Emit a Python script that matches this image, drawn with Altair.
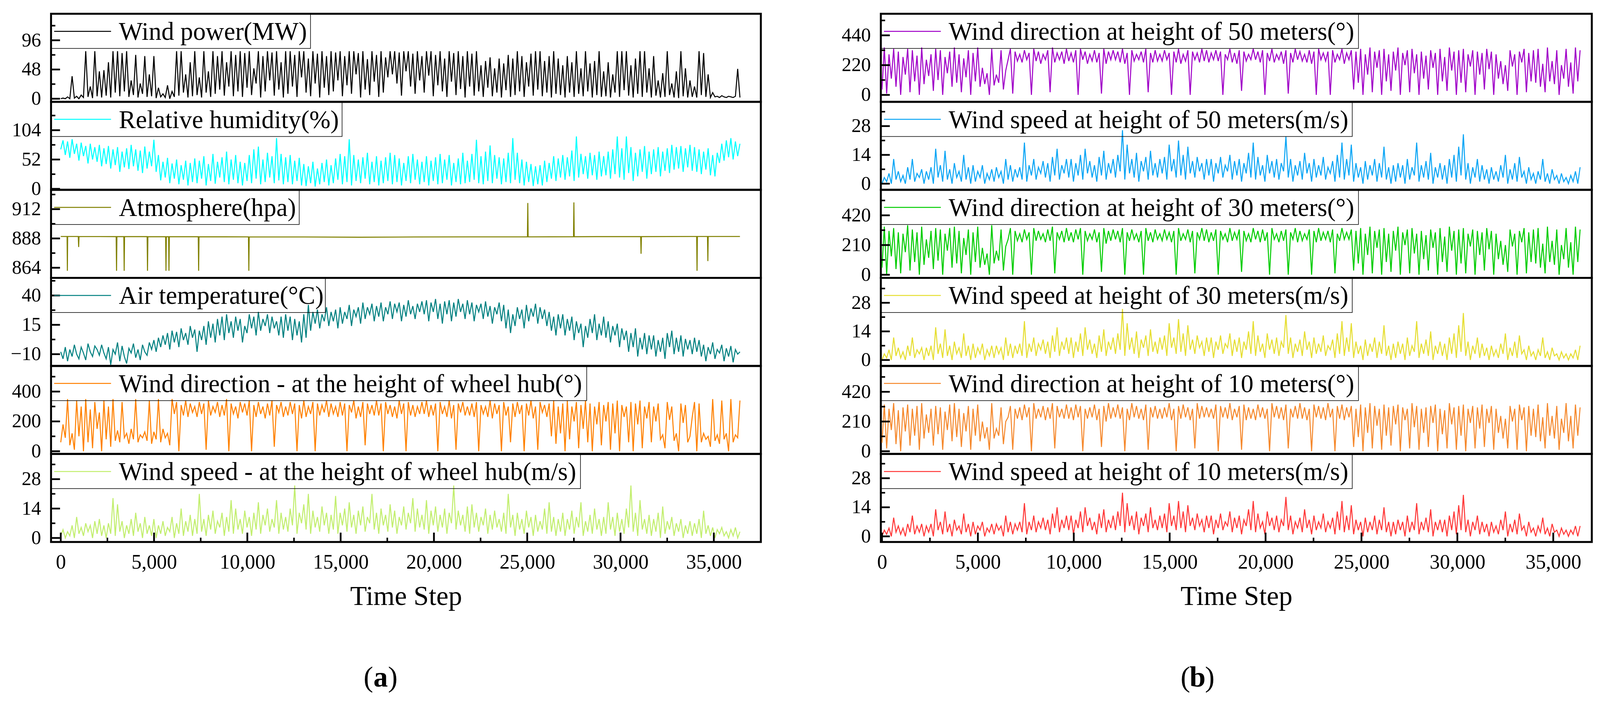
import altair as alt
import pandas as pd

FONT = "Liberation Serif"
X_LAST = 36400  # last time step of the record

# ---------------- values (alternating troughs / peaks) ----------------
wind_power = [
    0, 1, 0, 3, 0, 37, 1, 4, 0, 6, 2, 78, 3, 20, 1, 78, 4, 45, 2, 47,
    5, 60, 2, 78, 10, 78, 4, 75, 12, 78, 3, 30, 6, 72, 2, 25, 8, 70, 3, 40,
    4, 70, 1, 18, 3, 8, 2, 22, 0, 12, 3, 78, 5, 78, 10, 40, 2, 60, 4, 78,
    6, 35, 2, 78, 10, 45, 3, 78, 8, 70, 15, 78, 5, 60, 20, 78, 4, 72, 12, 78,
    3, 75, 18, 78, 6, 50, 25, 78, 2, 70, 12, 78, 30, 76, 5, 78, 15, 60, 2, 78,
    8, 78, 20, 72, 3, 78, 35, 78, 10, 66, 4, 78, 25, 74, 2, 78, 18, 70, 6, 78,
    12, 76, 30, 78, 4, 70, 22, 78, 8, 78, 40, 75, 2, 78, 15, 65, 6, 78, 28, 72,
    3, 78, 10, 68, 35, 78, 40, 78, 25, 76, 5, 78, 45, 78, 20, 74, 8, 78, 30, 70,
    10, 78, 38, 78, 4, 72, 22, 78, 12, 66, 3, 78, 28, 75, 6, 78, 16, 70, 2, 78,
    20, 74, 5, 78, 12, 55, 3, 62, 18, 68, 4, 50, 10, 66, 2, 58, 14, 72, 3, 66,
    6, 78, 12, 70, 3, 60, 20, 74, 5, 78, 15, 78, 4, 62, 10, 70, 2, 78, 8, 66,
    6, 55, 2, 70, 10, 60, 3, 78, 8, 50, 4, 78, 12, 58, 2, 62, 6, 78, 3, 45,
    4, 60, 2, 40, 10, 78, 3, 78, 14, 78, 5, 55, 2, 66, 8, 78, 3, 78, 10, 50,
    2, 70, 5, 30, 2, 42, 3, 78, 6, 25, 2, 45, 1, 78, 4, 50, 2, 30, 3, 20,
    2, 78, 6, 75, 3, 40, 2, 10, 3, 4, 2, 5, 3, 2, 4, 3, 2, 4, 49, 2,
]
humidity = [
    70, 86, 60, 84, 55, 88, 62, 80, 50, 82, 58, 76, 45, 80, 52, 74, 48, 78, 40, 72,
    44, 76, 36, 70, 42, 74, 30, 66, 38, 72, 35, 78, 40, 70, 32, 68, 28, 75, 36, 66,
    40, 87, 30, 60, 15, 48, 20, 55, 10, 45, 18, 52, 8, 42, 16, 50, 6, 46, 12, 54,
    10, 50, 18, 58, 6, 44, 14, 62, 9, 48, 20, 56, 12, 66, 8, 52, 16, 60, 10, 48,
    6, 46, 14, 60, 10, 70, 18, 75, 8, 52, 12, 64, 20, 58, 10, 90, 15, 62, 8, 56,
    12, 60, 8, 50, 14, 55, 6, 44, 5, 40, 10, 48, 4, 36, 8, 46, 12, 52, 6, 42,
    10, 54, 16, 62, 8, 58, 12, 88, 6, 60, 14, 52, 10, 56, 18, 64, 8, 48, 12, 58,
    6, 50, 10, 56, 14, 64, 8, 60, 12, 54, 6, 46, 14, 58, 10, 62, 16, 52, 8, 48,
    12, 58, 6, 50, 14, 56, 8, 62, 10, 52, 16, 60, 6, 46, 12, 54, 8, 64, 10, 50,
    12, 62, 16, 87, 10, 58, 8, 66, 14, 77, 10, 60, 18, 56, 8, 54, 12, 64, 10, 90,
    16, 64, 10, 52, 6, 48, 12, 44, 5, 40, 8, 42, 6, 50, 12, 46, 18, 58, 14, 54,
    20, 60, 16, 56, 22, 68, 14, 93, 20, 62, 26, 58, 18, 64, 24, 60, 16, 66, 22, 58,
    24, 66, 18, 70, 26, 93, 20, 72, 16, 93, 28, 74, 14, 64, 22, 70, 30, 76, 18, 66,
    26, 70, 30, 74, 22, 66, 32, 72, 28, 78, 34, 74, 36, 76, 30, 72, 38, 78, 32, 74,
    30, 70, 26, 66, 34, 72, 24, 60, 22, 64, 46, 80, 50, 86, 56, 90, 52, 84, 58, 80,
]
atm_steps = [
    0, 340, 355, 370, 940, 960, 980, 2970, 2990, 3010, 3380, 3400, 3420,
    4630, 4650, 4670, 5620, 5640, 5660, 5780, 5800, 5820, 7370, 7390, 7410,
    10060, 10080, 10100, 13000, 16000, 19000, 22000, 25010, 25030, 25050,
    27480, 27500, 27520, 29000, 31080, 31100, 31120, 34080, 34100, 34120,
    34660, 34680, 34700, 36400,
]
atm_values = [
    889.6, 889.6, 861.5, 889.6, 889.6, 881.0, 889.6, 889.5, 861.5, 889.5, 889.5, 861.5, 889.5,
    889.5, 861.5, 889.5, 889.4, 861.5, 889.4, 889.4, 861.5, 889.4, 889.4, 861.5, 889.4,
    889.3, 861.5, 889.3, 889.2, 889.0, 889.2, 889.3, 889.3, 917.0, 889.3,
    889.4, 917.5, 889.4, 889.5, 889.5, 875.5, 889.5, 889.6, 861.5, 889.6,
    889.6, 869.5, 889.6, 889.6,
]
air_temp = [
    -8, -14, -4, -16, -6, -12, -2, -10, -14, -4, -9, -15, -1, -8, -12, -3, -6, -11, -2, -9,
    -14, -4, -19, -6, -10, 0, -16, -3, -12, -18, -5, -9, -1, -13, -6, -15, -2, -8, -11, 0,
    -6, 2, -8, 4, -4, 6, -2, 8, -6, 10, 0, 9, -4, 12, 2, 8, -2, 14, 4, 11,
    -8, 10, 2, 14, -2, 18, 4, 16, 0, 20, 6, 22, 2, 24, 8, 18, 4, 22, 10, 20,
    0, 14, 8, 24, 12, 22, 6, 26, 10, 20, 14, 24, 8, 22, 12, 18, 6, 22, 4, 24,
    10, 22, 2, 20, 6, 18, 0, 24, 4, 32, 10, 26, 16, 28, 12, 24, 18, 30, 14, 26,
    18, 28, 12, 30, 16, 26, 20, 32, 14, 28, 22, 30, 16, 34, 20, 30, 24, 33, 18, 31,
    22, 34, 18, 30, 24, 35, 20, 33, 26, 34, 18, 32, 22, 36, 24, 31, 20, 33, 26, 35,
    24, 36, 18, 34, 26, 37, 20, 33, 16, 35, 24, 36, 18, 34, 22, 37, 26, 33, 20, 36,
    24, 34, 18, 32, 26, 33, 20, 35, 22, 31, 16, 30, 24, 34, 18, 32, 12, 28, 8, 24,
    14, 30, 20, 28, 12, 32, 18, 29, 22, 33, 16, 30, 20, 28, 14, 26, 10, 22, 6, 24,
    12, 24, 6, 20, 10, 22, 2, 18, 8, 16, -4, 14, 4, 20, 8, 24, 2, 16, 6, 22,
    4, 18, 0, 14, 6, 16, -4, 12, 2, 10, -8, 8, -4, 12, -12, 4, -6, 8, -10, 6,
    -6, 6, -12, 2, -8, 4, -14, 8, -4, 10, -10, 4, -8, 6, -12, 3, -6, 2, -10, 4,
    -8, 2, -12, -2, -16, -4, -10, 0, -14, -6, -9, -2, -16, -5, -12, -3, -17, -6, -10, -8,
]
wind_dir_hub = [
    60, 180, 90, 350, 40, 120, 10, 340, 100, 300, 0, 350, 60, 280, 20, 330, 150, 260, 0, 340,
    80, 300, 30, 350, 70, 140, 60, 330, 90, 120, 50, 150, 80, 350, 60, 110, 90, 130, 70, 340,
    50, 130, 80, 350, 60, 150, 90, 120, 40, 350, 250, 330, 0, 310, 240, 340, 230, 320, 260, 300,
    230, 330, 250, 320, 10, 340, 240, 300, 260, 330, 230, 310, 240, 350, 0, 320, 250, 300, 220, 330,
    260, 320, 240, 340, 0, 310, 230, 330, 250, 300, 220, 320, 240, 340, 30, 310, 260, 330, 230, 300,
    240, 330, 250, 320, 0, 310, 220, 340, 230, 300, 250, 330, 0, 320, 240, 310, 260, 340, 230, 320,
    250, 300, 230, 330, 240, 320, 0, 310, 260, 340, 220, 300, 230, 330, 40, 320, 250, 310, 240, 340,
    240, 320, 0, 330, 250, 310, 230, 300, 220, 340, 250, 320, 0, 330, 240, 310, 230, 300, 250, 330,
    250, 340, 230, 310, 240, 320, 0, 330, 250, 300, 230, 340, 220, 310, 10, 320, 260, 330, 240, 300,
    240, 320, 230, 330, 0, 310, 250, 300, 230, 340, 220, 320, 250, 310, 0, 330, 240, 300, 60, 320,
    230, 330, 250, 310, 0, 320, 240, 340, 220, 300, 10, 330, 260, 310, 230, 320, 100, 340, 50, 300,
    120, 320, 0, 340, 80, 300, 200, 330, 20, 310, 150, 340, 60, 320, 0, 300, 180, 330, 40, 310,
    200, 330, 10, 320, 120, 340, 0, 310, 230, 300, 60, 330, 0, 320, 180, 340, 20, 300, 220, 330,
    60, 300, 200, 320, 80, 110, 20, 330, 210, 300, 70, 120, 0, 320, 190, 310, 60, 100, 230, 330,
    0, 320, 60, 120, 80, 100, 30, 350, 70, 110, 50, 340, 80, 120, 0, 350, 60, 110, 90, 340,
]
wind_speed_hub = [
    1, 4, 0, 3, 1, 6, 0, 10, 2, 5, 1, 7, 3, 6, 0, 8, 2, 9, 1, 6,
    0, 7, 2, 19, 1, 16, 3, 8, 0, 6, 2, 9, 1, 12, 3, 7, 0, 10, 2, 6,
    1, 9, 0, 6, 2, 8, 1, 5, 3, 10, 0, 7, 2, 14, 1, 8, 3, 11, 1, 9,
    2, 21, 3, 9, 1, 11, 4, 13, 2, 8, 5, 12, 1, 10, 3, 18, 2, 14, 4, 9,
    2, 13, 5, 10, 1, 12, 4, 17, 2, 11, 6, 14, 3, 9, 5, 18, 2, 12, 4, 10,
    3, 14, 6, 25, 2, 12, 7, 16, 4, 21, 2, 13, 5, 10, 3, 15, 6, 12, 2, 11,
    4, 20, 2, 12, 6, 14, 3, 17, 5, 11, 2, 13, 6, 15, 3, 10, 7, 21, 4, 12,
    2, 14, 6, 11, 3, 16, 5, 13, 2, 10, 6, 15, 4, 12, 7, 19, 3, 14, 5, 11,
    4, 18, 2, 13, 6, 15, 3, 11, 5, 14, 2, 12, 7, 25, 4, 13, 6, 11, 3, 15,
    2, 16, 5, 12, 3, 10, 6, 14, 2, 11, 4, 13, 5, 9, 3, 12, 2, 21, 5, 11,
    1, 12, 4, 9, 2, 13, 5, 10, 1, 11, 3, 8, 4, 14, 2, 17, 3, 10, 1, 9,
    3, 12, 1, 9, 4, 13, 2, 10, 5, 17, 1, 8, 3, 11, 2, 14, 4, 9, 1, 10,
    2, 17, 4, 10, 1, 12, 3, 9, 2, 14, 5, 25, 3, 12, 1, 18, 4, 9, 2, 11,
    1, 9, 3, 12, 0, 15, 2, 8, 4, 10, 1, 7, 3, 9, 0, 6, 2, 8, 1, 7,
    2, 9, 0, 13, 2, 6, 1, 5, 0, 4, 2, 5, 1, 3, 0, 4, 1, 5, 0, 3,
]
wind_dir_50 = [
    40, 350, 10, 300, 120, 340, 60, 320, 0, 280, 150, 340, 20, 330, 100, 290, 0, 350, 80, 260,
    140, 300, 30, 340, 110, 330, 0, 280, 160, 320, 60, 350, 90, 300, 20, 270, 130, 330, 0, 310,
    100, 350, 60, 200, 80, 160, 0, 340, 70, 150, 90, 330, 40, 180, 260, 340, 10, 320, 250, 300,
    240, 330, 260, 310, 0, 340, 250, 320, 230, 300, 260, 330, 20, 350, 240, 310, 260, 320, 230, 340,
    250, 310, 240, 330, 0, 340, 260, 320, 230, 300, 250, 330, 240, 310, 10, 340, 230, 320, 260, 330,
    260, 320, 240, 340, 230, 310, 0, 330, 250, 300, 260, 320, 240, 340, 20, 310, 240, 330, 250, 300,
    250, 330, 260, 310, 0, 320, 240, 340, 230, 300, 250, 330, 0, 320, 260, 310, 240, 340, 250, 330,
    240, 310, 260, 330, 250, 320, 0, 300, 260, 340, 240, 310, 230, 330, 30, 320, 250, 300, 260, 340,
    260, 320, 240, 330, 0, 310, 250, 340, 240, 300, 260, 320, 230, 330, 10, 310, 240, 340, 260, 320,
    250, 300, 240, 330, 230, 320, 0, 340, 260, 310, 250, 320, 0, 330, 240, 300, 260, 340, 230, 310,
    260, 330, 40, 320, 90, 340, 0, 300, 150, 350, 20, 320, 200, 330, 0, 340, 100, 300, 30, 320,
    180, 350, 0, 310, 220, 330, 20, 340, 160, 300, 0, 320, 120, 290, 40, 330, 200, 310, 0, 340,
    100, 280, 30, 350, 180, 320, 0, 330, 90, 340, 20, 300, 210, 330, 0, 320, 150, 310, 40, 340,
    190, 320, 0, 300, 120, 250, 80, 220, 30, 330, 210, 300, 0, 320, 240, 340, 20, 310, 100, 330,
    90, 340, 60, 230, 20, 350, 100, 250, 80, 330, 0, 220, 120, 340, 60, 240, 10, 350, 100, 330,
]
wind_speed_50 = [
    0, 3, 1, 5, 0, 12, 2, 6, 1, 4, 0, 8, 2, 12, 1, 5, 3, 7, 0, 6,
    2, 8, 0, 17, 3, 9, 1, 16, 2, 7, 0, 10, 3, 6, 1, 14, 2, 8, 0, 9,
    1, 6, 3, 9, 0, 5, 2, 7, 1, 8, 3, 6, 0, 12, 2, 9, 1, 7, 3, 8,
    2, 20, 1, 9, 4, 12, 2, 8, 5, 11, 3, 10, 1, 13, 4, 17, 2, 9, 5, 12,
    3, 12, 1, 10, 4, 14, 2, 17, 5, 11, 3, 9, 1, 13, 4, 16, 2, 10, 5, 12,
    3, 14, 6, 26, 2, 19, 5, 12, 3, 15, 1, 11, 6, 13, 2, 16, 4, 10, 3, 12,
    5, 13, 2, 19, 6, 12, 3, 21, 4, 14, 2, 18, 5, 11, 3, 13, 6, 10, 2, 12,
    4, 12, 1, 10, 5, 13, 3, 9, 6, 14, 2, 11, 4, 12, 1, 10, 5, 15, 3, 20,
    2, 13, 4, 9, 1, 14, 5, 11, 3, 12, 2, 10, 6, 23, 3, 12, 1, 9, 4, 11,
    2, 15, 5, 10, 1, 12, 3, 9, 4, 13, 2, 8, 5, 11, 1, 14, 3, 20, 2, 12,
    4, 19, 1, 10, 3, 8, 0, 11, 2, 9, 4, 12, 1, 10, 3, 18, 2, 8, 0, 9,
    1, 10, 3, 9, 0, 12, 2, 8, 4, 20, 1, 9, 3, 11, 2, 15, 0, 8, 3, 10,
    2, 9, 0, 12, 3, 14, 1, 18, 4, 24, 2, 10, 0, 8, 3, 12, 1, 9, 2, 7,
    0, 8, 2, 6, 1, 9, 3, 14, 0, 7, 2, 10, 1, 13, 3, 6, 0, 8, 2, 5,
    0, 6, 2, 12, 1, 5, 0, 7, 2, 4, 0, 5, 1, 3, 0, 4, 1, 6, 0, 8,
]
wind_dir_30 = [
    50, 340, 0, 310, 130, 330, 40, 300, 10, 290, 160, 350, 30, 320, 90, 300, 0, 340, 70, 250,
    120, 310, 40, 330, 100, 320, 0, 290, 170, 330, 50, 340, 80, 310, 10, 260, 140, 320, 0, 300,
    90, 340, 50, 190, 70, 150, 0, 350, 80, 170, 100, 320, 30, 200, 250, 330, 0, 310, 240, 290,
    230, 320, 250, 300, 0, 330, 240, 310, 250, 290, 230, 320, 240, 340, 10, 300, 250, 310, 230, 330,
    240, 300, 230, 320, 250, 330, 0, 310, 240, 290, 250, 320, 230, 300, 20, 330, 220, 310, 240, 320,
    250, 310, 230, 330, 0, 300, 240, 320, 250, 290, 230, 310, 0, 330, 240, 300, 230, 320, 250, 290,
    240, 320, 250, 300, 230, 310, 0, 330, 240, 290, 250, 320, 230, 310, 10, 300, 250, 330, 240, 320,
    230, 300, 240, 320, 0, 310, 250, 290, 230, 330, 240, 300, 250, 320, 20, 310, 240, 290, 230, 330,
    250, 310, 230, 320, 240, 300, 0, 330, 250, 290, 230, 310, 240, 320, 0, 300, 250, 330, 230, 310,
    240, 290, 250, 320, 0, 310, 230, 330, 240, 300, 250, 310, 230, 320, 10, 290, 240, 330, 250, 300,
    250, 320, 30, 310, 80, 330, 0, 290, 140, 340, 10, 310, 190, 320, 0, 330, 90, 290, 20, 310,
    170, 340, 0, 300, 210, 320, 10, 330, 150, 290, 0, 310, 110, 280, 30, 320, 190, 300, 0, 330,
    90, 270, 20, 340, 170, 310, 0, 320, 80, 330, 10, 290, 200, 320, 0, 310, 140, 300, 30, 330,
    180, 310, 0, 290, 110, 240, 70, 210, 20, 320, 200, 290, 0, 310, 230, 330, 10, 300, 90, 320,
    80, 330, 50, 220, 10, 340, 90, 240, 70, 320, 0, 210, 110, 330, 50, 230, 0, 340, 90, 320,
]
wind_speed_30 = [
    0, 3, 1, 5, 0, 11, 2, 6, 1, 4, 0, 7, 2, 11, 1, 5, 3, 6, 0, 6,
    2, 7, 0, 16, 3, 8, 1, 15, 2, 7, 0, 9, 3, 6, 1, 13, 2, 7, 0, 8,
    1, 6, 3, 8, 0, 5, 2, 7, 1, 7, 3, 6, 0, 11, 2, 8, 1, 7, 3, 8,
    2, 19, 1, 8, 4, 11, 2, 8, 5, 10, 3, 9, 1, 12, 4, 16, 2, 9, 5, 11,
    3, 11, 1, 9, 4, 13, 2, 16, 5, 10, 3, 8, 1, 12, 4, 15, 2, 9, 5, 11,
    3, 13, 5, 25, 2, 18, 5, 11, 3, 14, 1, 10, 6, 12, 2, 15, 4, 9, 3, 11,
    5, 12, 2, 18, 6, 11, 3, 20, 4, 13, 2, 17, 5, 10, 3, 12, 6, 9, 2, 11,
    4, 11, 1, 9, 5, 12, 3, 8, 6, 13, 2, 10, 4, 11, 1, 9, 5, 14, 3, 19,
    2, 12, 4, 8, 1, 13, 5, 10, 3, 11, 2, 9, 6, 22, 3, 11, 1, 8, 4, 10,
    2, 14, 5, 9, 1, 11, 3, 8, 4, 12, 2, 7, 5, 10, 1, 13, 3, 19, 2, 11,
    4, 18, 1, 9, 3, 7, 0, 10, 2, 8, 4, 11, 1, 9, 3, 17, 2, 7, 0, 8,
    1, 9, 3, 8, 0, 11, 2, 7, 4, 19, 1, 8, 3, 10, 2, 14, 0, 7, 3, 9,
    2, 8, 0, 11, 3, 13, 1, 17, 4, 23, 2, 9, 0, 7, 3, 11, 1, 8, 2, 6,
    0, 7, 2, 5, 1, 8, 3, 13, 0, 6, 2, 9, 1, 12, 3, 5, 0, 7, 2, 4,
    0, 5, 2, 11, 1, 4, 0, 6, 2, 3, 0, 4, 1, 3, 0, 3, 1, 5, 0, 7,
]
wind_dir_10 = [
    60, 330, 20, 300, 150, 340, 50, 290, 0, 310, 140, 330, 40, 300, 110, 320, 10, 340, 90, 260,
    130, 300, 40, 320, 120, 310, 10, 280, 150, 330, 70, 340, 100, 300, 30, 270, 140, 320, 10, 300,
    110, 330, 70, 210, 90, 170, 10, 340, 90, 160, 110, 310, 50, 210, 240, 320, 10, 300, 230, 310,
    220, 330, 240, 310, 0, 340, 230, 300, 240, 320, 220, 310, 230, 340, 20, 320, 240, 300, 230, 330,
    230, 310, 220, 330, 240, 320, 0, 300, 230, 310, 240, 330, 220, 300, 30, 320, 210, 340, 230, 310,
    240, 330, 230, 310, 0, 300, 220, 340, 240, 320, 230, 300, 220, 330, 10, 310, 240, 320, 230, 300,
    230, 310, 240, 340, 220, 300, 0, 320, 230, 330, 240, 310, 220, 300, 20, 340, 230, 320, 240, 310,
    240, 300, 230, 330, 0, 320, 240, 310, 230, 340, 220, 300, 240, 320, 10, 330, 220, 310, 230, 300,
    220, 330, 240, 310, 230, 300, 0, 340, 240, 320, 230, 310, 220, 330, 20, 300, 240, 320, 230, 340,
    230, 310, 220, 300, 0, 330, 240, 320, 230, 310, 220, 340, 240, 300, 0, 320, 230, 330, 220, 310,
    240, 320, 30, 300, 100, 330, 0, 310, 130, 340, 20, 320, 180, 300, 10, 330, 110, 310, 40, 320,
    190, 330, 0, 310, 220, 300, 20, 340, 170, 320, 10, 300, 130, 310, 30, 320, 200, 330, 0, 300,
    120, 290, 20, 340, 190, 310, 10, 320, 110, 330, 0, 300, 200, 320, 20, 310, 160, 330, 30, 300,
    200, 320, 10, 300, 130, 250, 90, 230, 20, 320, 210, 300, 10, 330, 220, 310, 0, 320, 110, 300,
    100, 330, 70, 240, 20, 340, 110, 250, 90, 320, 10, 230, 130, 340, 70, 250, 20, 330, 110, 310,
]
wind_speed_10 = [
    0, 3, 1, 4, 0, 9, 2, 5, 1, 4, 0, 6, 2, 10, 1, 5, 2, 6, 0, 5,
    2, 6, 0, 13, 3, 7, 1, 12, 2, 6, 0, 8, 3, 5, 1, 11, 2, 6, 0, 7,
    1, 5, 3, 7, 0, 4, 2, 6, 1, 6, 3, 5, 0, 10, 2, 7, 1, 6, 3, 7,
    2, 16, 1, 7, 3, 10, 2, 7, 4, 9, 3, 8, 1, 11, 4, 14, 2, 8, 4, 10,
    3, 10, 1, 8, 4, 12, 2, 14, 5, 9, 3, 7, 1, 11, 4, 13, 2, 8, 4, 10,
    3, 12, 5, 21, 2, 16, 5, 10, 3, 12, 1, 9, 5, 11, 2, 14, 4, 8, 3, 10,
    4, 11, 2, 16, 5, 10, 3, 17, 4, 12, 2, 15, 5, 9, 3, 11, 5, 8, 2, 10,
    4, 10, 1, 8, 4, 11, 3, 7, 5, 12, 2, 9, 4, 10, 1, 8, 5, 13, 3, 17,
    2, 11, 4, 7, 1, 12, 5, 9, 3, 10, 2, 8, 5, 19, 3, 10, 1, 7, 4, 9,
    2, 13, 4, 8, 1, 10, 3, 7, 4, 11, 2, 7, 4, 9, 1, 12, 3, 17, 2, 10,
    3, 15, 1, 8, 3, 7, 0, 9, 2, 7, 3, 10, 1, 8, 3, 14, 2, 7, 0, 7,
    1, 8, 3, 7, 0, 10, 2, 7, 3, 16, 1, 7, 3, 9, 2, 13, 0, 7, 3, 8,
    2, 8, 0, 10, 3, 12, 1, 15, 3, 20, 2, 8, 0, 7, 3, 10, 1, 7, 2, 6,
    0, 7, 2, 5, 1, 8, 3, 12, 0, 6, 2, 8, 1, 11, 3, 5, 0, 7, 2, 4,
    0, 5, 2, 9, 1, 4, 0, 6, 2, 3, 0, 4, 1, 3, 0, 3, 1, 5, 0, 5,
]

left_labels = [
    "Wind power(MW)",
    "Relative humidity(%)",
    "Atmosphere(hpa)",
    "Air temperature(°C)",
    "Wind direction - at the height of wheel hub(°)",
    "Wind speed - at the height of wheel hub(m/s)",
]
right_labels = [
    "Wind direction at height of 50 meters(°)",
    "Wind speed at height of 50 meters(m/s)",
    "Wind direction at height of 30 meters(°)",
    "Wind speed at height of 30 meters(m/s)",
    "Wind direction at height of 10 meters(°)",
    "Wind speed at height of 10 meters(m/s)",
]
x_major = [0, 5000, 10000, 15000, 20000, 25000, 30000, 35000]
x_minor = [2500, 7500, 12500, 17500, 22500, 27500, 32500]

# ---------------- styles / layout ----------------
H = 226
LEFT_W, RIGHT_W = 1822, 1825
LEFT_XDOM, RIGHT_XDOM = [-520, 37520], [-60, 37010]

left_specs = [
    dict(values=wind_power, color="#000000", ydom=[-5.1, 139.5], major=[0, 48, 96], minor=[24, 72, 120], box=666),
    dict(values=humidity, color="#00FFFF", ydom=[-1.8, 154.3], major=[0, 52, 104], minor=[26, 78, 130], box=747),
    dict(values=atm_values, xs=atm_steps, color="#808000", ydom=[855.7, 927.8], major=[864, 888, 912], minor=[876, 900, 924], box=637),
    dict(values=air_temp, color="#008080", ydom=[-20, 55], major=[-10, 15, 40], minor=[2.5, 27.5, 52.5], box=704),
    dict(values=wind_dir_hub, color="#FF8000", ydom=[-18, 572], major=[0, 200, 400], minor=[100, 300, 500], box=1375),
    dict(values=wind_speed_hub, color="#C2EE6E", ydom=[-1.9, 40], major=[0, 14, 28], minor=[7, 21, 35], box=1359),
]
right_specs = [
    dict(values=wind_dir_50, color="#A000C8", ydom=[-51, 599], major=[0, 220, 440], minor=[110, 330, 550], box=1226),
    dict(values=wind_speed_50, color="#0AA5F5", ydom=[-3, 39.8], major=[0, 14, 28], minor=[7, 21, 35], box=1210),
    dict(values=wind_dir_30, color="#00CC00", ydom=[-22, 600], major=[0, 210, 420], minor=[105, 315, 525], box=1226),
    dict(values=wind_speed_30, color="#E6DE32", ydom=[-2.9, 40.2], major=[0, 14, 28], minor=[7, 21, 35], box=1210),
    dict(values=wind_dir_10, color="#F5882C", ydom=[-19, 603], major=[0, 210, 420], minor=[105, 315, 525], box=1226),
    dict(values=wind_speed_10, color="#FF3838", ydom=[-2.7, 39.7], major=[0, 14, 28], minor=[7, 21, 35], box=1210),
]


def series_df(values, xs=None):
    n = len(values)
    if xs is None:
        xs = [X_LAST * i / (n - 1) for i in range(n)]
    return pd.DataFrame({"x": xs, "y": values})


def panel(spec, label, width, xdom, bottom, tag, tag_x):
    xscale = alt.Scale(domain=xdom, nice=False, zero=False)
    yscale = alt.Scale(domain=spec["ydom"], nice=False, zero=False)
    if bottom:
        xaxis = alt.Axis(values=x_major, format=",d", ticks=False, domain=False, grid=False,
                         labelFont=FONT, labelFontSize=52, labelColor="black", labelPadding=27,
                         labelFlush=False, labelOverlap=False,
                         title="Time Step", titleFont=FONT, titleFontSize=70,
                         titleFontWeight="normal", titleColor="black", titlePadding=28)
    else:
        xaxis = None
    yaxis = alt.Axis(values=spec["major"], ticks=False, domain=False, grid=False,
                     labelFont=FONT, labelFontSize=50, labelColor="black", labelPadding=26,
                     labelFlush=False, labelOverlap=False, title=None,
                     minExtent=120, maxExtent=120)
    df = series_df(spec["values"], spec.get("xs"))
    line = alt.Chart(df).mark_line(color=spec["color"], strokeWidth=2.6, clip=True).encode(
        x=alt.X("x:Q", scale=xscale, axis=xaxis),
        y=alt.Y("y:Q", scale=yscale, axis=yaxis),
    )
    # inward ticks (same scale and same axis definition so the axes merge)
    ymaj = alt.Chart(pd.DataFrame({"y": spec["major"]})).mark_rule(color="black", strokeWidth=4.5).encode(
        y=alt.Y("y:Q", scale=yscale, axis=yaxis), x=alt.value(0), x2=alt.value(23))
    ymin = alt.Chart(pd.DataFrame({"y": spec["minor"]})).mark_rule(color="black", strokeWidth=4).encode(
        y=alt.Y("y:Q", scale=yscale, axis=yaxis), x=alt.value(0), x2=alt.value(11))
    one = pd.DataFrame({"label": [label]})
    box = alt.Chart(one).mark_rect(fillOpacity=0, stroke="black", strokeWidth=1.5).encode(
        x=alt.value(0), x2=alt.value(spec["box"]), y=alt.value(0), y2=alt.value(89))
    sample = alt.Chart(one).mark_rule(color=spec["color"], strokeWidth=2.5).encode(
        x=alt.value(8), x2=alt.value(154), y=alt.value(45))
    text = alt.Chart(one).mark_text(align="left", baseline="alphabetic", font=FONT,
                                    fontSize=65, color="black").encode(
        x=alt.value(174), y=alt.value(67), text="label:N")
    layers = [line, ymaj, ymin, box, sample, text]
    if bottom:
        xmaj = alt.Chart(pd.DataFrame({"x": x_major})).mark_rule(color="black", strokeWidth=4.5).encode(
            x=alt.X("x:Q", scale=xscale, axis=xaxis), y=alt.value(H), y2=alt.value(H - 24))
        xmin = alt.Chart(pd.DataFrame({"x": x_minor})).mark_rule(color="black", strokeWidth=4).encode(
            x=alt.X("x:Q", scale=xscale, axis=xaxis), y=alt.value(H), y2=alt.value(H - 11))
        layers += [xmaj, xmin]
        tag_y = H + 371
        lp = alt.Chart(one).mark_text(align="right", baseline="alphabetic", font=FONT, fontSize=74,
                                      color="black").encode(x=alt.value(tag_x - 19), y=alt.value(tag_y), text=alt.value("("))
        la = alt.Chart(one).mark_text(align="center", baseline="alphabetic", font=FONT, fontSize=74,
                                      fontWeight="bold", color="black").encode(x=alt.value(tag_x), y=alt.value(tag_y), text=alt.value(tag))
        rp = alt.Chart(one).mark_text(align="left", baseline="alphabetic", font=FONT, fontSize=74,
                                      color="black").encode(x=alt.value(tag_x + 19), y=alt.value(tag_y), text=alt.value(")"))
        layers += [lp, la, rp]
    return alt.layer(*layers).properties(width=width, height=H)


left_col = alt.vconcat(*[
    panel(s, lab, LEFT_W, LEFT_XDOM, i == 5, "a", 846)
    for i, (s, lab) in enumerate(zip(left_specs, left_labels))
], spacing=0, bounds="flush")
right_col = alt.vconcat(*[
    panel(s, lab, RIGHT_W, RIGHT_XDOM, i == 5, "b", 813)
    for i, (s, lab) in enumerate(zip(right_specs, right_labels))
], spacing=0, bounds="flush")

chart = alt.hconcat(left_col, right_col, spacing=182).properties(
    padding={"left": 0, "top": 21, "right": 10, "bottom": 10}
).configure(font=FONT).configure_view(stroke="black", strokeWidth=5)

chart.save("out.html", embed_options={"renderer": "svg", "actions": False})
